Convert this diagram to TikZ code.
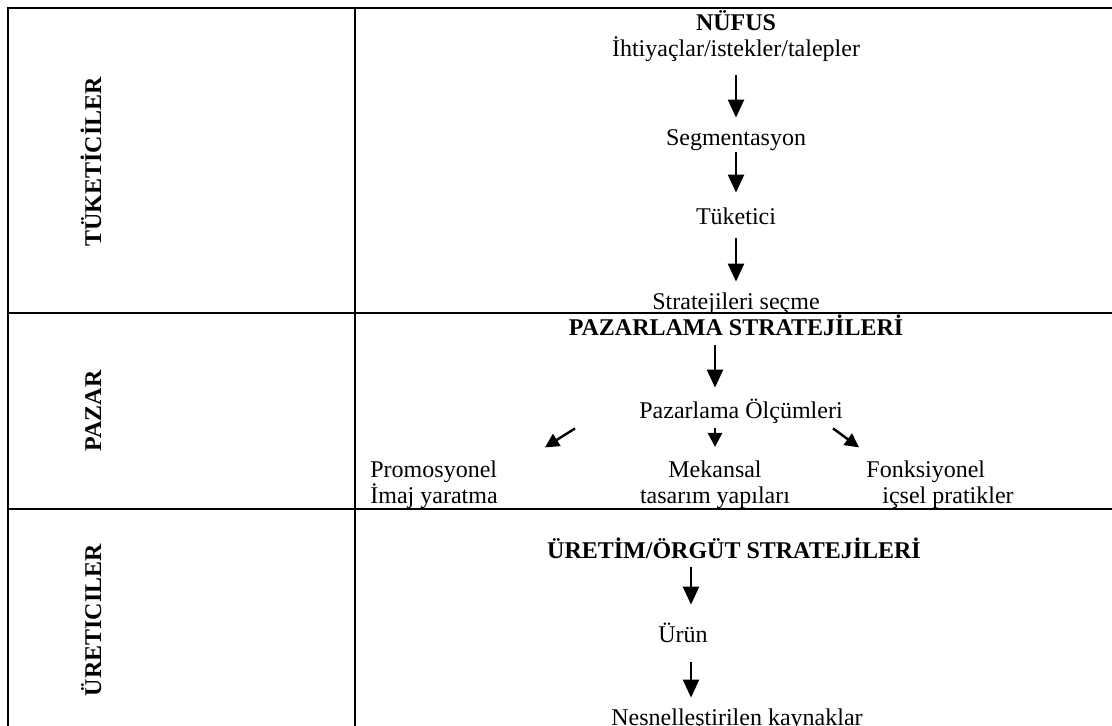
\documentclass[tikz,border=0pt]{standalone}
\usepackage{fontspec}
\setmainfont{Liberation Serif}
\usetikzlibrary{arrows.meta}

\tikzset{
  txt/.style={inner sep=0pt, text height=9pt, text depth=3pt, font=\fontsize{12}{13}\selectfont},
  bld/.style={txt, font=\fontsize{12}{13}\selectfont\bfseries},
  multi/.style={inner sep=0pt, font=\fontsize{12}{13}\selectfont},
  side/.style={bld, rotate=90, anchor=base},
  arr/.style={line width=1.2pt, -{Triangle[length=9pt,width=8pt]}},
  shortarr/.style={line width=1.2pt, -{Triangle[length=7pt,width=7pt]}},
  tableline/.style={line width=1pt}
}

\begin{document}
\begin{tikzpicture}[x=0.5pt, y=-0.5pt]
    \useasboundingbox (0,0) rectangle (1112,726);
    % table
    \draw[tableline] (1112,8) -- (8,8) -- (8,726);
    \draw[tableline] (355,8) -- (355,726);
    \draw[tableline] (8,313) -- (1112,313);
    \draw[tableline] (8,509) -- (1112,509);
    % row labels
    \node[side] (tuk) at (101,162) {TÜKETİCİLER};
    \node[side] (paz) at (101,411) {PAZAR};
    \node[side] (ure) at (101,620) {ÜRETICILER};
    % consumers
    \node[bld, anchor=base] (nufus) at (736,31) {NÜFUS};
    \node[txt, anchor=base] (ihtiyac) at (736,57) {İhtiyaçlar/istekler/talepler};
    \node[txt, anchor=base] (segment) at (736,146) {Segmentasyon};
    \node[txt, anchor=base] (tuketici) at (736,225) {Tüketici};
    \node[txt, anchor=base] (secme) at (736,310) {Stratejileri seçme};
    \draw[arr, shorten <=6pt, shorten >=5pt] (ihtiyac) -- (segment);
    \draw[arr, shorten <=0pt, shorten >=7pt] (segment) -- (tuketici);
    \draw[arr, shorten <=3.5pt, shorten >=5pt] (tuketici) -- (secme);
    % market
    \node[bld, anchor=base] (pazstrat) at (736,336) {PAZARLAMA STRATEJİLERİ};
    \node[txt, anchor=base] (olcum) at (741,419) {Pazarlama Ölçümleri};
    \node[multi, align=left, anchor=north west] (promo) at (370,460) {Promosyonel\\İmaj yaratma};
    \node[multi, align=center, anchor=north] (mek) at (715,460) {Mekansal\\tasarım yapıları};
    \node[multi, align=left, anchor=north west] (fonk) at (866,460) {Fonksiyonel\\\hspace*{8pt}içsel pratikler};
    \draw[arr, shorten <=1.5pt, shorten >=6.5pt] (pazstrat.south -| mek.north) -- (olcum.north -| mek.north);
    \draw[shortarr, shorten <=1.5pt, shorten >=6.5pt] (olcum.south -| mek.north) -- (mek.north);
    \draw[shortarr] ([shift={(-166,3)}]olcum.south) -- ([shift={(-196,22)}]olcum.south);
    \draw[shortarr] ([shift={(92,3)}]olcum.south) -- ([shift={(118,22)}]olcum.south);
    % producers
    \node[bld, anchor=base] (uretim) at (734,558) {ÜRETİM/ÖRGÜT STRATEJİLERİ};
    \node[txt, anchor=base] (urun) at (683,642) {Ürün};
    \node[txt, anchor=base] (kaynak) at (737,725) {Nesnelleştirilen kaynaklar};
    \draw[arr, shorten <=1.5pt, shorten >=9.5pt] ([xshift=4pt]urun.north |- uretim.south) -- ([xshift=4pt]urun.north);
    \draw[arr, shorten <=7pt, shorten >=4.5pt] ([xshift=4pt]urun.south) -- ([xshift=4pt]urun.south |- kaynak.north);
\end{tikzpicture}
\end{document}
